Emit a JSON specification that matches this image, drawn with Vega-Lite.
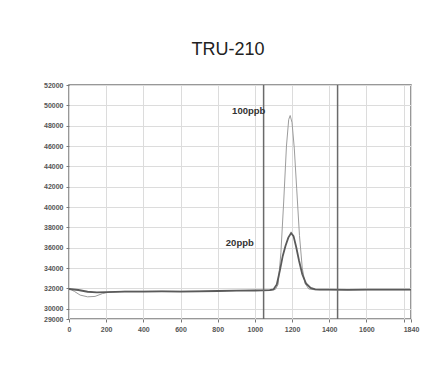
{
  "$schema": "https://vega.github.io/schema/vega-lite/v6.json",
  "width": 342,
  "height": 234,
  "autosize": "none",
  "padding": {"left": 69, "top": 85, "right": 27, "bottom": 53},
  "background": "white",
  "title": {"text": "TRU-210", "fontSize": 18, "font": "Liberation Sans", "fontWeight": "normal", "color": "#222", "anchor": "middle", "dx": -12, "offset": 8, "baseline": "alphabetic"},
  "config": {
    "view": {"stroke": "#777", "strokeWidth": 1.5},
    "axis": {"gridColor": "#dcdcdc", "gridWidth": 1, "domain": false, "tickColor": "#777", "tickSize": 3, "labelFont": "Liberation Sans", "labelFontSize": 7, "labelColor": "#555555", "labelFontWeight": "bold", "title": null, "labelOverlap": false, "labelFlush": false, "labelPadding": 3}
  },
  "datasets": {
    "s100": [
      {"t": 0, "v": 32000}, {"t": 30, "v": 31700}, {"t": 60, "v": 31350}, {"t": 100, "v": 31180}, {"t": 140, "v": 31220}, {"t": 180, "v": 31500},
      {"t": 220, "v": 31650}, {"t": 300, "v": 31720}, {"t": 400, "v": 31720}, {"t": 500, "v": 31730}, {"t": 600, "v": 31720}, {"t": 700, "v": 31740},
      {"t": 800, "v": 31760}, {"t": 900, "v": 31790}, {"t": 1000, "v": 31810}, {"t": 1080, "v": 31830}, {"t": 1110, "v": 31900}, {"t": 1125, "v": 32400},
      {"t": 1140, "v": 35500}, {"t": 1155, "v": 40500}, {"t": 1170, "v": 46000}, {"t": 1182, "v": 48600}, {"t": 1190, "v": 49000}, {"t": 1200, "v": 48300},
      {"t": 1212, "v": 45800}, {"t": 1225, "v": 41800}, {"t": 1240, "v": 37200}, {"t": 1255, "v": 34000}, {"t": 1270, "v": 32500}, {"t": 1290, "v": 31950},
      {"t": 1320, "v": 31880}, {"t": 1400, "v": 31880}, {"t": 1500, "v": 31870}, {"t": 1600, "v": 31880}, {"t": 1700, "v": 31880}, {"t": 1840, "v": 31880}
    ],
    "s20": [
      {"t": 0, "v": 31950}, {"t": 50, "v": 31850}, {"t": 100, "v": 31680}, {"t": 150, "v": 31620}, {"t": 200, "v": 31650}, {"t": 300, "v": 31700},
      {"t": 400, "v": 31700}, {"t": 500, "v": 31720}, {"t": 600, "v": 31700}, {"t": 700, "v": 31720}, {"t": 800, "v": 31750}, {"t": 900, "v": 31780},
      {"t": 1000, "v": 31800}, {"t": 1080, "v": 31830}, {"t": 1100, "v": 31900}, {"t": 1118, "v": 32400}, {"t": 1135, "v": 33800}, {"t": 1150, "v": 35200},
      {"t": 1165, "v": 36200}, {"t": 1180, "v": 37000}, {"t": 1195, "v": 37450}, {"t": 1208, "v": 37150}, {"t": 1222, "v": 36100}, {"t": 1238, "v": 34700},
      {"t": 1255, "v": 33400}, {"t": 1275, "v": 32500}, {"t": 1300, "v": 32050}, {"t": 1325, "v": 31920}, {"t": 1350, "v": 31880}, {"t": 1400, "v": 31880},
      {"t": 1500, "v": 31870}, {"t": 1600, "v": 31880}, {"t": 1700, "v": 31880}, {"t": 1840, "v": 31880}
    ],
    "markers": [{"t": 1047, "v": 29000, "v2": 52000}, {"t": 1445, "v": 29000, "v2": 52000}],
    "notes": [{"t": 967, "v": 49400, "label": "100ppb"}, {"t": 919, "v": 36500, "label": "20ppb"}]
  },
  "encoding": {
    "x": {"field": "t", "type": "quantitative", "scale": {"domain": [0, 1840], "nice": false, "zero": false},
          "axis": {"values": [0, 200, 400, 600, 800, 1000, 1200, 1400, 1600, 1800, 1840], "labelExpr": "datum.value == 1800 ? '' : format(datum.value, 'd')", "labelOverlap": false, "labelFlush": false}},
    "y": {"field": "v", "type": "quantitative", "scale": {"domain": [29000, 52000], "nice": false, "zero": false},
          "axis": {"values": [29000, 30000, 32000, 34000, 36000, 38000, 40000, 42000, 44000, 46000, 48000, 50000, 52000], "labelExpr": "format(datum.value, 'd')", "labelOverlap": false, "labelFlush": false}}
  },
  "layer": [
    {
      "data": {"name": "s100"},
      "mark": {"type": "line", "color": "#9c9c9c", "strokeWidth": 1}
    },
    {
      "data": {"name": "s20"},
      "mark": {"type": "line", "color": "#5a5a5a", "strokeWidth": 1.8}
    },
    {
      "data": {"name": "markers"},
      "mark": {"type": "rule", "color": "#6a6a6a", "strokeWidth": 1.5},
      "encoding": {"y2": {"field": "v2"}}
    },
    {
      "data": {"name": "notes"},
      "mark": {"type": "text", "font": "Liberation Sans", "fontSize": 9.5, "fontWeight": "bold", "color": "#333"},
      "encoding": {"text": {"field": "label"}}
    }
  ]
}
